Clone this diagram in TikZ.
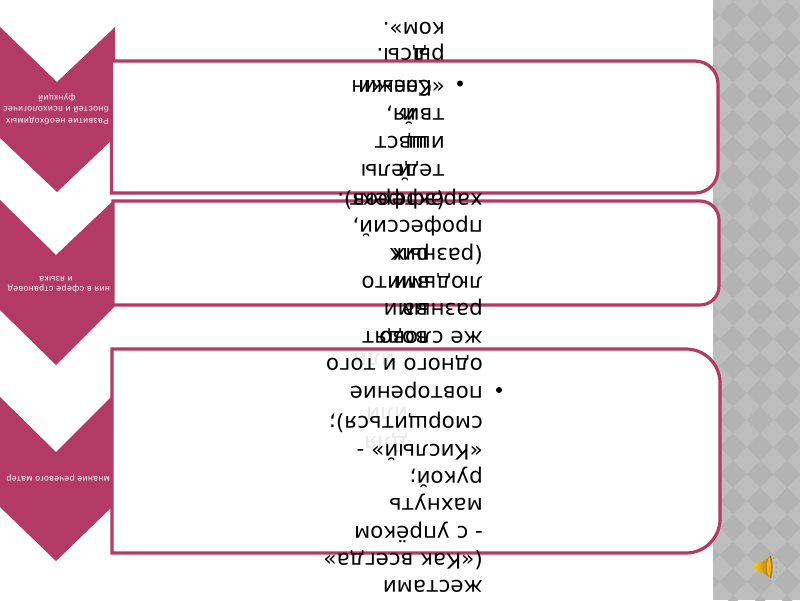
\documentclass[tikz,border=0pt]{standalone}
\usepackage{fontspec}
\setmainfont{DejaVu Sans}
\newfontfamily\smallfont{Liberation Sans}
\definecolor{wine}{HTML}{B33A65}
\definecolor{panelA}{HTML}{BDBDBD}
\definecolor{panelB}{HTML}{B3B3B3}
\definecolor{ghost}{HTML}{E8E8E8}
\tikzset{
  chev/.style={fill=wine,draw=none},
  tbox/.style={draw=wine,line width=3.2pt,fill=white},
  bigtext/.style={rotate=180,anchor=base west,inner sep=0pt,font=\fontsize{21.4}{21}\selectfont,text=black},
  ghosttext/.style={bigtext,text=ghost},
  dotmark/.style={circle,fill=black,inner sep=0pt,minimum size=6pt},
  smalltext/.style={rotate=180,inner sep=0pt,text=white,font=\smallfont\fontsize{8.6}{9}\selectfont\addfontfeatures{LetterSpace=6}}
}
\begin{document}
\begin{tikzpicture}[x=1pt,y=-1pt]
\useasboundingbox (0,0) rectangle (800,600);
\fill[white] (0,0) rectangle (800,600);
% side panel
\fill[panelA] (713,0) rectangle (800,600);
\draw[line width=0.7pt,black!25] (713,0) -- (713,600);
\begin{scope}
\clip (713.4,0) rectangle (800,600);
\foreach \i in {0,...,3}{
  \foreach \j in {-1,...,22}{
    \pgfmathsetmacro{\cx}{706+27*\i}
    \pgfmathsetmacro{\cy}{15+27*\j}
    \fill[panelB] (\cx-13.5,\cy) -- (\cx,\cy-13.5) -- (\cx+13.5,\cy) -- (\cx,\cy+13.5) -- cycle;
  }
}
\end{scope}
% chevrons
\fill[chev] (-1,26) -- (57,82) -- (115,27) -- (115,137) -- (57,192) -- (-1,137) -- cycle;
\fill[chev] (-1,199) -- (56,255) -- (114,200) -- (114,307) -- (56,365) -- (-1,309) -- cycle;
\fill[chev] (-1,396) -- (56,452) -- (114,394) -- (114,505) -- (56,561) -- (-1,506) -- cycle;
% boxes
\draw[tbox] (111.5,61) -- (695,61) arc[start angle=-90,end angle=0,radius=23] -- (718,170) arc[start angle=0,end angle=90,radius=23] -- (111.5,193) -- cycle;
\draw[tbox] (113,201) -- (700,201) arc[start angle=-90,end angle=0,radius=19] -- (719,286) arc[start angle=0,end angle=90,radius=19] -- (113,305) -- cycle;
\draw[tbox] (112,349) -- (686,349) arc[start angle=-90,end angle=0,radius=34] -- (720,519) arc[start angle=0,end angle=90,radius=34] -- (112,553) -- cycle;
% chevron labels
\begin{scope}
\clip (0,0) rectangle (110,600);
\node[smalltext,anchor=base west] (c1a) at (109,118) {Развитие необходимых};
\node[smalltext,anchor=base west] (c1b) at (109,106.5) {бностей и психологичес};
\node[smalltext,anchor=base] (c1c) at (57,95.5) {функций};
\node[smalltext,anchor=base west] (c2a) at (110,286.5) {ния в сфере страновед};
\node[smalltext,anchor=base] (c2b) at (56,276) {и языка};
\node[smalltext,anchor=base west] (c3a) at (110,476) {мнание речевого матер};
\end{scope}
% ghost text
\node[ghosttext] (g1) at (408,407) {или};
\node[ghosttext] (g2) at (408,436) {Для};
\node[ghosttext] (g3) at (395,353) {или};
% long text, first column
\node[bigtext] (l1) at (483,580) {жестами};
\node[bigtext] (l2) at (483,553) {(«Как всегда»};
\node[bigtext] (l3) at (483,526) {- с упрёком};
\node[bigtext] (l4) at (483,498) {махнуть};
\node[bigtext] (l5) at (483,471) {рукой;};
\node[bigtext] (l6) at (483,444) {«Кислый» -};
\node[bigtext] (l7) at (483,416) {сморщиться);};
\node[bigtext] (l8) at (483,386) {повторение};
\node[dotmark] (b1) at (499,390) {};
\node[bigtext] (l9) at (483,358) {одного и того};
\node[bigtext] (l10) at (483,331) {же слово};
\node[bigtext] (l11) at (483,303) {разными};
\node[bigtext] (l12) at (483,276) {людьми};
\node[bigtext] (l13) at (483,248) {(разных};
\node[bigtext] (l14) at (483,220) {профессий,};
\node[bigtext] (l15) at (483,193) {характеров).};
% overlaid text
\node[bigtext] (o1) at (428,331) {водят};
\node[bigtext] (o2) at (428,303) {ва};
\node[bigtext] (o3) at (430,276) {вмито};
\node[bigtext] (o4) at (430,248) {рик};
\node[bigtext] (o5) at (445,193) {(эффект};
% third text
\node[bigtext] (t1) at (445,164) {теделы};
\node[bigtext] (t1b) at (412,164) {й};
\node[bigtext] (t2) at (445,136) {ишвст};
\node[bigtext] (t2b) at (428,136) {щ};
\node[bigtext] (t3) at (445,108) {твия,};
\node[bigtext] (t3b) at (416,108) {й};
\node[bigtext] (t4) at (445,80) {«};
\node[bigtext,xscale=0.9] (t4b) at (432,80) {Коньки};
\node[bigtext,xscale=0.9] (t4c) at (432,80) {Снежин};
\node[dotmark] (b2) at (460,83.5) {};
\node[bigtext] (t5) at (445,48) {ры};
\node[bigtext] (t5b) at (427,48) {дсы.};
\node[bigtext] (t6) at (445,22) {ком».};
% speaker
\fill[black!55] (774,558) circle (0.5pt) (776,563) circle (0.5pt) (776,567) circle (0.5pt) (776,572) circle (0.5pt) (774,577) circle (0.5pt);
\shade[left color=yellow!60!orange,right color=brown!80!black,draw=none]
  (755.5,563) -- (762,562) -- (771,555.5) .. controls (773,562) and (773,572) .. (771,578.5) -- (762,572) -- (755.5,571) .. controls (754,568) and (754,566) .. (755.5,563) -- cycle;
\fill[yellow!40!orange] (769.5,556.5) .. controls (766,562) and (766,572) .. (769.5,577.5) .. controls (771.5,572) and (771.5,562) .. (769.5,556.5) -- cycle;
\end{tikzpicture}
\end{document}
